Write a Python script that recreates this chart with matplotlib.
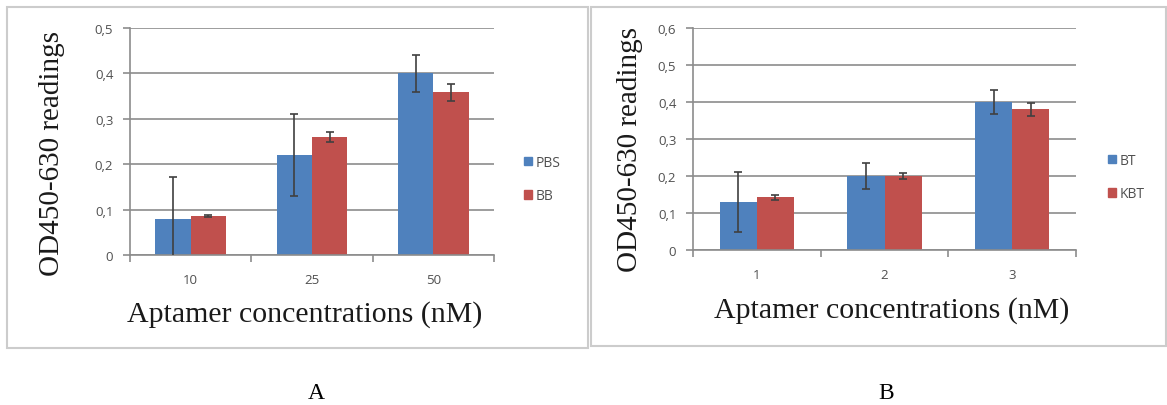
import matplotlib
matplotlib.use("Agg")
import matplotlib.pyplot as plt
import numpy as np
from matplotlib.patches import Rectangle, Patch
from matplotlib.ticker import FuncFormatter

# panel A
conc_a = ["10", "25", "50"]
pbs = [0.08, 0.22, 0.40]
pbs_err = [0.092, 0.091, 0.04]
bb = [0.086, 0.26, 0.358]
bb_err = [0.003, 0.012, 0.018]

# panel B
conc_b = ["1", "2", "3"]
bt = [0.13, 0.20, 0.40]
bt_err = [0.08, 0.036, 0.033]
kbt = [0.142, 0.20, 0.38]
kbt_err = [0.008, 0.009, 0.018]

blue = "#4F81BD"
red = "#C0504D"
grid_c = "#8c8c8c"
tick_font = "Open Sans"
serif = "Liberation Serif"

fig = plt.figure(figsize=(11.67, 4.06), dpi=100)
W, H = 1167, 406


def fbox(x0, y0, x1, y1):
    # pixel box (top-left origin) -> figure fraction rect
    return [x0 / W, 1 - y1 / H, (x1 - x0) / W, (y1 - y0) / H]


# panel frames
for x0, y0, x1, y1 in [(7, 8, 588, 349), (591, 8, 1166, 347)]:
    r = fbox(x0, y0, x1, y1)
    fig.patches.append(Rectangle((r[0], r[1]), r[2], r[3], transform=fig.transFigure,
                                 fill=False, edgecolor="#cccccc", lw=1.5))


def panel(rect, cats, v1, e1, v2, e2, names, ymax, yl_xy, xl_xy, leg_xy):
    ax = fig.add_axes(fbox(*rect))
    x = np.arange(len(cats))
    w = 0.29
    ax.bar(x - w / 2, v1, w, color=blue, zorder=2)
    ax.bar(x + w / 2, v2, w, color=red, zorder=2)
    ax.errorbar(x - w / 2, v1, yerr=e1, fmt="none", ecolor="#404040", elinewidth=1.2,
                capsize=3, capthick=1.2, zorder=3)
    ax.errorbar(x + w / 2, v2, yerr=e2, fmt="none", ecolor="#404040", elinewidth=1.2,
                capsize=3, capthick=1.2, zorder=3)
    ax.set_xlim(-0.5, len(cats) - 0.5)
    ax.set_ylim(0, ymax)
    ax.set_yticks(np.arange(0, ymax + 0.001, 0.1))
    ax.yaxis.set_major_formatter(FuncFormatter(
        lambda v, p: "0" if abs(v) < 1e-9 else ("%.1f" % v).replace(".", ",")))
    ax.set_xticks(x)
    ax.set_xticklabels(cats)
    ax.set_xticks(np.arange(-0.5, len(cats)), minor=True)
    ax.tick_params(axis="x", which="major", length=0, pad=13)
    ax.tick_params(axis="x", which="minor", length=5, color=grid_c, width=1.2)
    ax.tick_params(axis="y", length=5, color=grid_c, width=1.2, pad=7)
    for lab in ax.get_xticklabels() + ax.get_yticklabels():
        lab.set_fontfamily(tick_font)
        lab.set_fontsize(9.5)
        lab.set_color("#505050")
    ax.grid(axis="y", color=grid_c, lw=1.2, zorder=0)
    ax.set_axisbelow(True)
    for s in ["top", "right"]:
        ax.spines[s].set_visible(False)
    ax.spines["left"].set_color(grid_c)
    ax.spines["bottom"].set_color(grid_c)
    ax.spines["left"].set_linewidth(1.2)
    ax.spines["bottom"].set_linewidth(1.2)
    fig.text(yl_xy[0] / W, 1 - yl_xy[1] / H, "OD450-630 readings",
             rotation=90, ha="center", va="center", family=serif, fontsize=21,
             color="#1a1a1a")
    fig.text(xl_xy[0] / W, 1 - xl_xy[1] / H,
             "Aptamer concentrations (nM)", ha="center", va="center",
             family=serif, fontsize=21.5, color="#1a1a1a")
    handles = [Patch(color=blue, label=names[0]), Patch(color=red, label=names[1])]
    leg = fig.legend(handles=handles, loc="center left",
                     bbox_to_anchor=(leg_xy[0] / W, 1 - leg_xy[1] / H),
                     frameon=False, handlelength=0.6, handleheight=0.6,
                     handletextpad=0.25, labelspacing=1.3, borderpad=0, borderaxespad=0,
                     prop={"family": tick_font, "size": 10})
    for t in leg.get_texts():
        t.set_color("#505050")
    return ax


panel((130, 29, 494, 256), conc_a, pbs, pbs_err, bb, bb_err, ["PBS", "BB"], 0.5,
      (52, 153), (305, 315), (524, 180))
panel((693, 29, 1076, 251), conc_b, bt, bt_err, kbt, kbt_err, ["BT", "KBT"], 0.6,
      (630, 150), (892, 311), (1108, 178))

fig.text(316 / W, 1 - 394 / H, "A", ha="center", va="center", family=serif, fontsize=17)
fig.text(886 / W, 1 - 394 / H, "B", ha="center", va="center", family=serif, fontsize=17)

fig.savefig("out.png", dpi=100)
